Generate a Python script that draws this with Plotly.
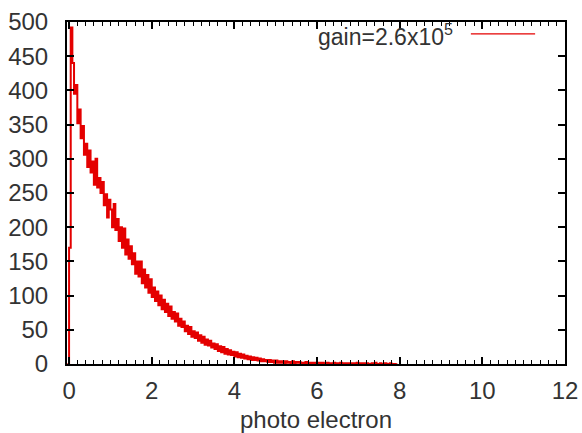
import numpy as np
import plotly.graph_objects as go

# Histogram of photo-electron counts (bins start at -0.04, width 0.04)
bin_start = -0.04
bin_width = 0.04
counts = [
    0, 170, 492, 440, 395, 408, 352, 372, 330, 348,
    306, 322, 288, 312, 280, 296, 262, 300, 258, 272,
    250, 266, 232, 248, 214, 240, 226, 200, 234, 196,
    212, 180, 200, 170, 198, 160, 182, 154, 172, 146,
    162, 132, 150, 128, 150, 118, 138, 112, 130, 104,
    124, 98, 112, 92, 106, 86, 100, 80, 94, 76,
    88, 70, 84, 66, 76, 62, 74, 56, 66, 54,
    62, 48, 56, 44, 54, 40, 48, 38, 46, 34,
    42, 31, 40, 28, 36, 27, 34, 24, 30, 22,
    29, 19, 26, 17, 25, 15, 22, 14, 20, 13,
    18, 11, 17, 10, 15, 9, 14, 8, 12, 7,
    11, 6, 10, 6, 9, 5, 8, 4, 7, 4,
    6, 3, 6, 3, 5, 2, 5, 2, 4, 2,
    4, 1, 4, 2, 3, 1, 4, 1, 3, 2,
    3, 1, 2, 1, 3, 1, 2, 0, 2, 1,
    2, 1, 2, 1, 2, 1, 1, 2, 1, 1,
    1, 2, 0, 1, 1, 2, 0, 1, 1, 0,
    1, 0, 1, 1, 0, 2, 0, 1, 0, 1,
    0, 1, 0, 0, 1, 0, 2, 0, 0, 1,
    0, 0, 1, 0, 0, 1, 0, 0, 0, 1,
]
x_ticks = [0, 2, 4, 6, 8, 10, 12]
y_ticks = [0, 50, 100, 150, 200, 250, 300, 350, 400, 450, 500]
legend_label = "gain=2.6x10<sup>5</sup>"
x_title = "photo electron"

x = bin_start + bin_width * np.arange(len(counts))

RED = "rgb(228,0,0)"
FONT = "Liberation Sans, Arial, sans-serif"
TXT = "#333333"
FS = 24

fig = go.Figure(
    go.Scatter(
        x=x, y=counts, mode="lines",
        line=dict(color=RED, width=2, shape="hv"),
        showlegend=False, hoverinfo="skip",
    )
)

fig.update_layout(
    width=582, height=433,
    margin=dict(l=67, r=17, t=22, b=69, autoexpand=False),
    plot_bgcolor="white", paper_bgcolor="white",
    font=dict(family=FONT, size=FS, color=TXT),
    showlegend=False,
)

fig.update_xaxes(
    range=[-0.05, 12], tickvals=x_ticks, ticktext=[str(v) for v in x_ticks],
    ticks="inside", ticklen=7, tickwidth=1.5, tickcolor="black",
    showline=True, linecolor="black", linewidth=2, mirror="allticks",
    showgrid=False, zeroline=False,
    minor=dict(dtick=0.2, tick0=0, ticks="inside", ticklen=4, tickwidth=1.2, tickcolor="black", showgrid=False),
    tickfont=dict(size=FS, color=TXT, family=FONT),
    ticklabelstandoff=4,
    title=dict(text=x_title, font=dict(size=FS, color=TXT, family=FONT), standoff=11),
    automargin=False,
)
fig.update_yaxes(
    range=[0, 500], tickvals=y_ticks, ticktext=[str(v) for v in y_ticks],
    ticks="inside", ticklen=7, tickwidth=1.5, tickcolor="black",
    showline=True, linecolor="black", linewidth=2, mirror="allticks",
    showgrid=False, zeroline=False,
    tickfont=dict(size=FS, color=TXT, family=FONT),
    ticklabelstandoff=12,
    automargin=False,
)

fig.add_annotation(
    x=0.779, y=0.962, xref="paper", yref="paper",
    xanchor="right", yanchor="middle",
    text=legend_label, showarrow=False,
    font=dict(size=FS - 1, color=TXT, family=FONT),
)
fig.add_shape(
    type="line", xref="paper", yref="paper",
    x0=0.811, x1=0.94, y0=0.965, y1=0.965,
    line=dict(color=RED, width=1.3),
)

fig.write_html(
    "out.html",
    config={"displayModeBar": False},
    post_script="document.body.style.margin='0px';document.body.style.overflow='hidden';",
)
